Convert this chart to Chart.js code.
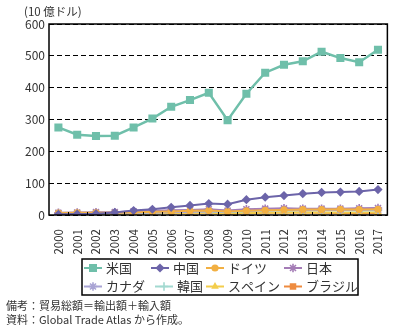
<!DOCTYPE html>
<html>
<head>
<meta charset="utf-8">
<script src="https://cdn.jsdelivr.net/npm/chart.js@4/dist/chart.umd.min.js"></script>
<style>
  body { margin: 0; background: #fff; }
  #wrap { position: relative; width: 398px; height: 333px; font-family: "Noto Sans CJK JP", sans-serif; color: #333; }
  #unit { position: absolute; left: 24px; top: 3px; font-size: 11.5px; }
  .note { position: absolute; left: 6px; font-size: 11px; white-space: nowrap; }
</style>
</head>
<body>
<div id="wrap">
  <canvas id="chart" width="398" height="333"></canvas>
  <div id="unit">(10 億ドル)</div>
  <div class="note" style="top:297px">備考：貿易総額＝輸出額＋輸入額</div>
  <div class="note" style="top:311px">資料：Global Trade Atlas から作成。</div>
</div>
<script>
var years = ['2000', '2001', '2002', '2003', '2004', '2005', '2006', '2007', '2008',
  '2009', '2010', '2011', '2012', '2013', '2014', '2015', '2016', '2017'];

var usa = [275, 252, 248, 249, 275, 303, 340, 361, 384, 298, 381, 447, 472, 483, 513, 493, 480, 519];
var china = [2, 3, 4, 8, 14, 18, 24, 30, 36, 34, 48, 56, 61, 67, 71, 72, 74, 80];
var germany = [6, 7, 7, 7, 8, 10, 11, 13, 14, 11, 13, 15, 16, 17, 17, 18, 17, 18];
var japan = [7, 8, 9, 9, 12, 13, 15, 16, 18, 14, 18, 20, 21, 20, 20, 20, 21, 22];
var canada = [6, 6, 6, 6, 7, 8, 9, 10, 12, 11, 13, 15, 16, 16, 16, 16, 16, 17];
var korea = [4, 4, 4, 5, 6, 8, 10, 11, 11, 9, 12, 14, 14, 15, 15, 15, 14, 15];
var spain = [2, 2, 3, 3, 4, 5, 6, 7, 7, 5, 6, 7, 8, 8, 8, 8, 8, 9];
var brazil = [1, 2, 3, 4, 5, 6, 7, 8, 9, 5, 6, 7, 8, 8, 7, 6, 5, 6];

var yTicks = [0, 100, 200, 300, 400, 500, 600];

function series(label, data, color, style, radius, width) {
  return {
    label: label,
    data: data,
    borderColor: color,
    backgroundColor: color,
    pointBackgroundColor: color,
    pointBorderColor: color,
    pointStyle: style,
    pointRadius: radius,
    pointBorderWidth: (style == 'star' || style == 'cross') ? 1.6 : 0,
    borderWidth: width,
    tension: 0,
    fill: false
  };
}

// legend slots: [x of line start, row]
var legendPos = [[84, 0], [151, 0], [206, 0], [284, 0], [84, 1], [155, 1], [206, 1], [284, 1]];

var framePlugin = {
  id: 'frame',
  afterDraw: function (chart) {
    var ctx = chart.ctx, a = chart.chartArea;
    ctx.save();
    // inner tick marks between categories
    var n = years.length, w = (a.right - a.left) / n;
    ctx.strokeStyle = '#000';
    ctx.lineWidth = 1;
    ctx.beginPath();
    for (var i = 1; i < n; i++) {
      var x = Math.round(a.left + i * w) + 0.5;
      ctx.moveTo(x, a.bottom);
      ctx.lineTo(x, a.bottom - 3);
    }
    ctx.stroke();
    ctx.lineWidth = 1.5;
    ctx.strokeRect(a.left, a.top, a.right - a.left, a.bottom - a.top);

    // legend box
    ctx.lineWidth = 1.5;
    ctx.strokeRect(82, 259, 276, 36);
    ctx.font = '13px "Noto Sans CJK JP"';
    ctx.textBaseline = 'middle';
    chart.data.datasets.forEach(function (ds, k) {
      var x0 = legendPos[k][0], y = 268 + legendPos[k][1] * 18.5;
      ctx.strokeStyle = ds.borderColor;
      ctx.fillStyle = ds.borderColor;
      ctx.lineWidth = 2;
      ctx.beginPath();
      ctx.moveTo(x0, y);
      ctx.lineTo(x0 + 18, y);
      ctx.stroke();
      ctx.lineWidth = ds.pointBorderWidth || 1;
      if (Chart.helpers && Chart.helpers.drawPoint) {
        Chart.helpers.drawPoint(ctx, {
          pointStyle: ds.pointStyle, rotation: 0,
          radius: ds.pointRadius, borderWidth: ds.pointBorderWidth
        }, x0 + 9, y);
      }
      ctx.fillStyle = '#333';
      ctx.fillText(ds.label, x0 + 22, y);
    });
    ctx.restore();
  }
};

Chart.defaults.font.family = '"Noto Sans CJK JP", sans-serif';
Chart.defaults.color = '#333';

new Chart(document.getElementById('chart'), {
  type: 'line',
  data: {
    labels: years,
    datasets: [
      series('米国', usa, '#6fbfaa', 'rect', 5.7, 2.5),
      series('中国', china, '#6c64a9', 'rectRot', 4.6, 2),
      series('ドイツ', germany, '#f2b043', 'circle', 3.6, 2),
      series('日本', japan, '#a47cb6', 'star', 4.2, 2),
      series('カナダ', canada, '#a9a4d4', 'star', 4.2, 2),
      series('韓国', korea, '#a2d9d0', 'cross', 4.2, 2),
      series('スペイン', spain, '#f3cd4c', 'triangle', 4.4, 2),
      series('ブラジル', brazil, '#ee8b3f', 'rect', 4.6, 2)
    ]
  },
  options: {
    responsive: false,
    animation: false,
    layout: { padding: { left: 0, right: 8, top: 24, bottom: 78 } },
    plugins: {
      legend: { display: false },
      tooltip: { enabled: false }
    },
    scales: {
      x: {
        offset: true,
        grid: { display: false },
        border: { display: false },
        ticks: {
          minRotation: 90, maxRotation: 90, padding: 6,
          font: { size: 11.5 }, color: '#333'
        },
        afterFit: function (scale) { scale.height = 40; }
      },
      y: {
        min: 0, max: 600,
        afterBuildTicks: function (scale) {
          scale.ticks = yTicks.map(function (v) { return { value: v }; });
        },
        grid: { color: '#000', lineWidth: 1, drawTicks: false },
        border: { display: false, dash: [5, 3] },
        ticks: { padding: 4, font: { size: 12 }, color: '#333' },
        afterFit: function (scale) { scale.width = 49; }
      }
    }
  },
  plugins: [framePlugin]
});
</script>
</body>
</html>
